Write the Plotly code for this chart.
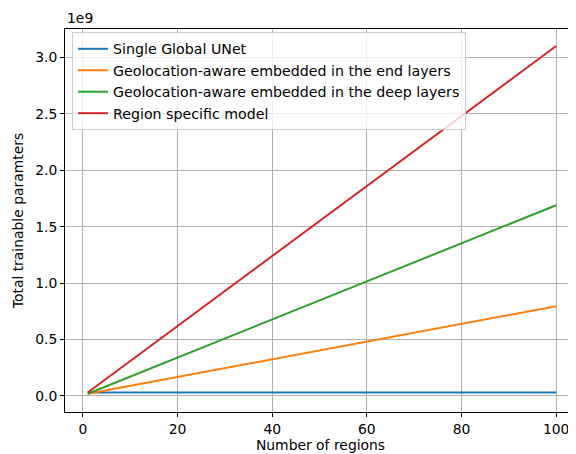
import plotly.graph_objects as go

# Data (values in units of 1e9 parameters)
regions = [1, 100]
single_global = [0.031, 0.031]
end_layers = [0.020, 0.795]
deep_layers = [0.020, 1.690]
region_specific = [0.031, 3.100]

names = ["Single Global UNet",
         "Geolocation-aware embedded in the end layers",
         "Geolocation-aware embedded in the deep layers",
         "Region specific model"]
series = [single_global, end_layers, deep_layers, region_specific]
colors = ["#1f77b4", "#ff7f0e", "#2ca02c", "#d62728"]

xticks = [0, 20, 40, 60, 80, 100]
yticks = [0.0, 0.5, 1.0, 1.5, 2.0, 2.5, 3.0]

FONT = "DejaVu Sans"
FS = 13.9

fig = go.Figure()
for n, s, c in zip(names, series, colors):
    fig.add_trace(go.Scatter(x=regions, y=s, mode="lines", name=n,
                             line=dict(color=c, width=2)))

# page body has an 8px margin, so the figure is 8px smaller and margins shifted
fig.update_layout(
    width=568, height=446,
    margin=dict(l=57, r=0, t=21, b=42),
    paper_bgcolor="white", plot_bgcolor="white",
    font=dict(family=FONT, size=FS, color="black"),
    showlegend=True,
    legend=dict(x=0.0137, y=0.992, xanchor="left", yanchor="top",
                bgcolor="rgba(255,255,255,0.8)", bordercolor="#cccccc",
                borderwidth=1, font=dict(family=FONT, size=14.2),
                tracegroupgap=0),
)
fig.update_xaxes(range=[-3.8, 104.2], tickvals=xticks, ticktext=[str(t) for t in xticks],
                 automargin=False,
                 showgrid=True, gridcolor="#b0b0b0", gridwidth=0.8,
                 showline=True, linecolor="black", linewidth=1, mirror=True,
                 ticks="outside", ticklen=4, tickcolor="black", zeroline=False,
                 title=dict(text="Number of regions", standoff=4,
                            font=dict(family=FONT, size=FS)))
fig.update_yaxes(range=[-0.142, 3.251], tickvals=yticks,
                 ticktext=[f"{t:.1f}" for t in yticks],
                 automargin=False,
                 showgrid=True, gridcolor="#b0b0b0", gridwidth=0.8,
                 showline=True, linecolor="black", linewidth=1, mirror=False,
                 ticks="outside", ticklen=4, tickcolor="black", zeroline=False,
                 title=dict(text="Total trainable paramters", standoff=8,
                            font=dict(family=FONT, size=FS)))
fig.add_annotation(text="1e9", xref="paper", yref="paper", x=0, y=1,
                   xanchor="left", yanchor="bottom", showarrow=False,
                   font=dict(family=FONT, size=FS), yshift=1)

fig.write_html("out.html")
